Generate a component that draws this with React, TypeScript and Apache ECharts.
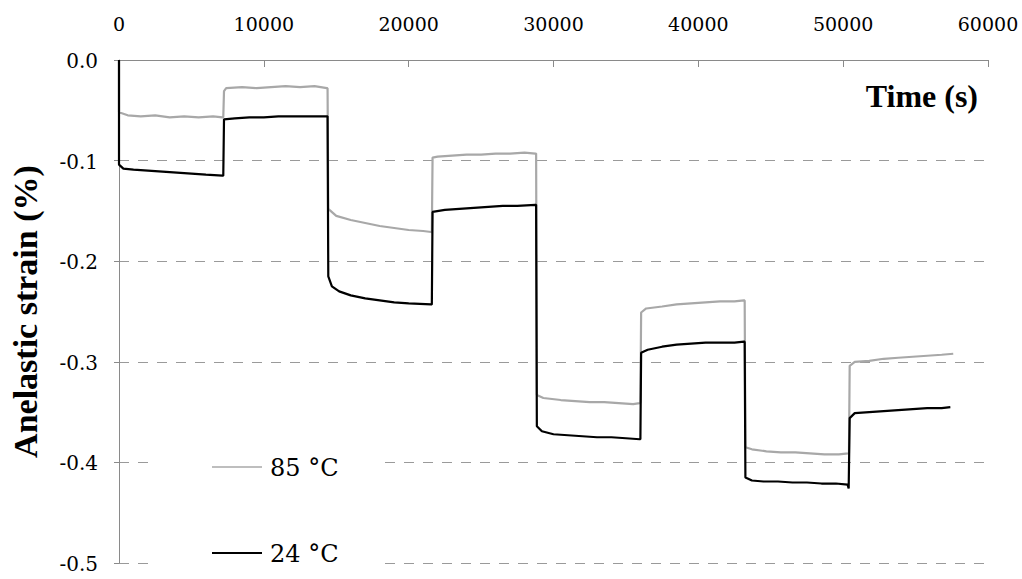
import React, { useEffect, useRef } from "react";
import * as echarts from "echarts";

// Time (s) and anelastic strain (%)
const t85 = [0, 0, 600, 1500, 2500, 3500, 4500, 5500, 6500, 7150,
  7200, 7250, 7400, 8500, 9500, 10500, 11500, 12500, 13500, 14350,
  14400, 14450, 15000, 16000, 17000, 18000, 19000, 20000, 21000, 21550,
  21600, 21650, 22000, 23000, 24000, 25000, 26000, 27000, 28000, 28750,
  28800, 28850, 29300, 30500, 31500, 32500, 33500, 34500, 35500, 35950,
  36000, 36050, 36400, 37500, 38500, 39500, 40500, 41500, 42500, 43150,
  43200, 43250, 43700, 44700, 45700, 46700, 47700, 48700, 49700, 50350,
  50400, 50450, 50800, 51800, 52800, 53800, 54800, 55800, 56800, 57600];
const s85 = [0, -0.052, -0.055, -0.056, -0.055, -0.057, -0.056, -0.057, -0.056, -0.057,
  -0.057, -0.031, -0.028, -0.027, -0.028, -0.027, -0.026, -0.027, -0.026, -0.028,
  -0.028, -0.148, -0.155, -0.159, -0.162, -0.165, -0.167, -0.169, -0.170, -0.171,
  -0.171, -0.097, -0.096, -0.095, -0.094, -0.094, -0.093, -0.093, -0.092, -0.093,
  -0.093, -0.333, -0.336, -0.338, -0.339, -0.340, -0.340, -0.341, -0.342, -0.341,
  -0.341, -0.251, -0.247, -0.245, -0.243, -0.242, -0.241, -0.240, -0.240, -0.239,
  -0.239, -0.385, -0.387, -0.389, -0.390, -0.390, -0.391, -0.392, -0.392, -0.391,
  -0.391, -0.304, -0.300, -0.299, -0.297, -0.296, -0.295, -0.294, -0.293, -0.292];

const t24 = [0, 0, 300, 1000, 2000, 3000, 4000, 5000, 6000, 7150,
  7200, 7250, 8000, 9000, 10000, 11000, 12000, 13000, 14350,
  14400, 14450, 14700, 15200, 16000, 17000, 18000, 19000, 20000, 21550,
  21600, 21650, 22500, 23500, 24500, 25500, 26500, 27500, 28750,
  28800, 28850, 29200, 30000, 31000, 32000, 33000, 34000, 35000, 35950,
  36000, 36050, 36500, 37500, 38500, 39500, 40500, 41500, 42500, 43150,
  43200, 43250, 43700, 44500, 45500, 46500, 47500, 48500, 49500, 50300, 50380,
  50400, 50450, 50800, 51800, 52800, 53800, 54800, 55800, 56800, 57400];
const s24 = [0, -0.104, -0.108, -0.109, -0.110, -0.111, -0.112, -0.113, -0.114, -0.115,
  -0.115, -0.059, -0.058, -0.057, -0.057, -0.056, -0.056, -0.056, -0.056,
  -0.056, -0.215, -0.225, -0.230, -0.234, -0.237, -0.239, -0.241, -0.242, -0.243,
  -0.243, -0.151, -0.149, -0.148, -0.147, -0.146, -0.145, -0.145, -0.144,
  -0.144, -0.364, -0.369, -0.372, -0.373, -0.374, -0.375, -0.375, -0.376, -0.377,
  -0.377, -0.291, -0.288, -0.285, -0.283, -0.282, -0.281, -0.281, -0.281, -0.280,
  -0.280, -0.415, -0.418, -0.419, -0.419, -0.420, -0.420, -0.421, -0.421, -0.422, -0.426,
  -0.426, -0.356, -0.351, -0.350, -0.349, -0.348, -0.347, -0.346, -0.346, -0.345];

const xTicks = [0, 10000, 20000, 30000, 40000, 50000, 60000];
const yTicks = [0, -0.1, -0.2, -0.3, -0.4, -0.5];
const yTickLabels = ["0.0", "-0.1", "-0.2", "-0.3", "-0.4", "-0.5"];

const seriesNames = ["85 °C", "24 °C"];
const seriesColors = ["#a8a8a8", "#000000"];

const FONT = "Liberation Serif";
const NUM_FONT = "DejaVu Serif";

export default function App() {
  const ref = useRef<HTMLDivElement>(null);
  useEffect(() => {
    if (!ref.current) return;
    const chart = echarts.init(ref.current, undefined, { renderer: "svg" });
    const pairs = (t: number[], s: number[]) => t.map((x, i) => [x, s[i]]);
    chart.setOption({
      animation: false,
      backgroundColor: "#ffffff",
      grid: { left: 116, right: 34, top: 60, bottom: 16 },
      xAxis: {
        type: "value",
        position: "top",
        min: 0,
        max: 60000,
        interval: 10000,
        axisLine: { show: true, lineStyle: { color: "#8a8a8a", width: 1 } },
        axisTick: { show: true, inside: true, length: 7, lineStyle: { color: "#8a8a8a" } },
        axisLabel: { show: false },
        splitLine: { show: false },
      },
      yAxis: {
        type: "value",
        min: -0.5,
        max: 0,
        interval: 0.1,
        name: "Anelastic strain (%)",
        nameLocation: "middle",
        nameRotate: 90,
        nameGap: 77,
        nameTextStyle: { fontFamily: FONT, fontSize: 34, fontWeight: "bold", color: "#000" },
        axisLine: { show: true, onZero: false, lineStyle: { color: "#8a8a8a", width: 1 } },
        axisTick: { show: true, length: 5, lineStyle: { color: "#8a8a8a" } },
        axisLabel: { show: false },
        splitLine: { show: true, lineStyle: { color: "#9a9a9a", type: [10, 9], width: 1.2 } },
      },
      series: [
        {
          name: seriesNames[0], type: "line", data: pairs(t85, s85), symbol: "none",
          lineStyle: { color: seriesColors[0], width: 2.2 }, itemStyle: { color: seriesColors[0] }, z: 2,
        },
        {
          name: seriesNames[1], type: "line", data: pairs(t24, s24), symbol: "none",
          lineStyle: { color: seriesColors[1], width: 2.2 }, itemStyle: { color: seriesColors[1] }, z: 3,
        },
      ],
    });

    const ctx = document.createElement("canvas").getContext("2d")!;
    const widthOf = (text: string, size: number) => {
      ctx.font = `${size}px ${NUM_FONT}`;
      return ctx.measureText(text).width;
    };

    const xAxisY = chart.convertToPixel({ yAxisIndex: 0 }, 0) as number;
    const yAxisX = chart.convertToPixel({ xAxisIndex: 0 }, 0) as number;
    const xLabels = xTicks.map((v) => {
      const text = String(v);
      const cx = chart.convertToPixel({ xAxisIndex: 0 }, v) as number;
      return {
        type: "text", z: 5,
        left: cx - widthOf(text, 19) / 2,
        top: xAxisY - 46,
        style: { text, fontFamily: NUM_FONT, fontSize: 19, fill: "#000" },
      };
    });
    const yLabels = yTicks.map((v, i) => {
      const text = yTickLabels[i];
      const cy = chart.convertToPixel({ yAxisIndex: 0 }, v) as number;
      return {
        type: "text", z: 5,
        left: yAxisX - 21 - widthOf(text, 20),
        top: cy - 9,
        style: { text, fontFamily: NUM_FONT, fontSize: 20, fill: "#000" },
      };
    });
    const legendRows = seriesNames.map((n, i) => {
      const y = i === 0 ? 467 : 553;
      return [
        { type: "line", z: 5, shape: { x1: 212, y1: y, x2: 262, y2: y }, style: { stroke: seriesColors[i], lineWidth: i === 0 ? 1.6 : 2 } },
        { type: "text", z: 5, left: 270, top: y - 11, style: { text: n, fontFamily: NUM_FONT, fontSize: 24, fill: "#000" } },
      ];
    }).flat();

    chart.setOption({
      graphic: [
        { type: "rect", z: 1, shape: { x: 156, y: 440, width: 229, height: 139 }, style: { fill: "#ffffff" } },
        {
          type: "text", z: 5, right: 44, top: 80,
          style: { text: "Time (s)", fontFamily: FONT, fontSize: 32, fontWeight: "bold", fill: "#000" },
        },
        ...xLabels,
        ...yLabels,
        ...legendRows,
      ],
    });
    return () => chart.dispose();
  }, []);
  return <div ref={ref} style={{ position: "absolute", left: 0, top: 0, width: 1022, height: 579 }} />;
}
